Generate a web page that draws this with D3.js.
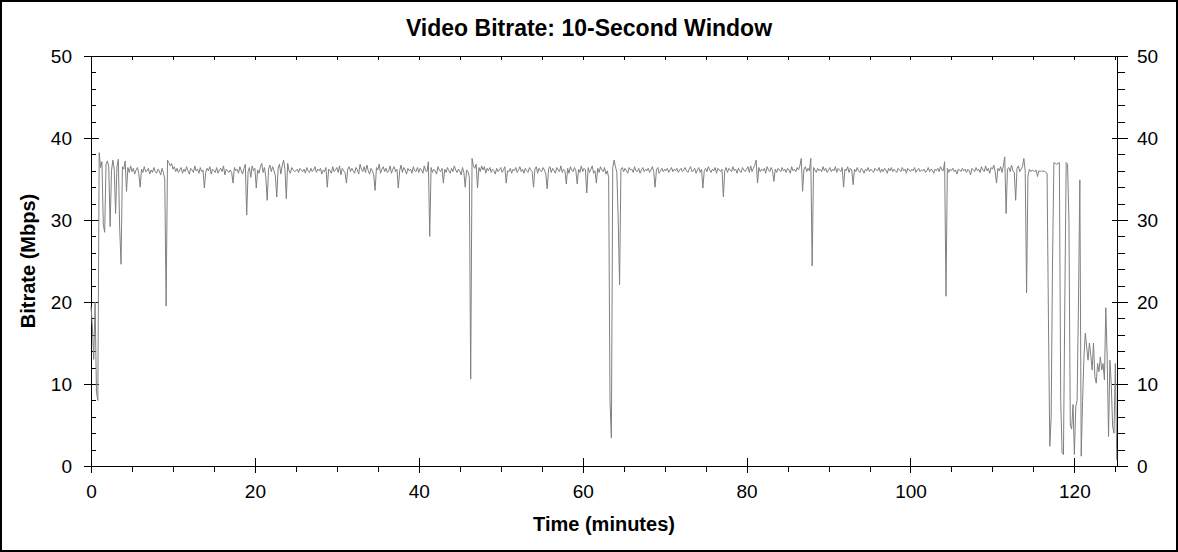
<!DOCTYPE html>
<html>
<head>
<meta charset="utf-8">
<script src="https://cdn.jsdelivr.net/npm/d3@7/dist/d3.min.js"></script>
<style>
  html, body { margin: 0; padding: 0; background: #fff; }
  svg { display: block; }
  text { font-family: "Liberation Sans", Arial, sans-serif; fill: #000; }
</style>
</head>
<body>
<svg id="chart" width="1178" height="552"></svg>
<script>
// ---- data ----
const titleText = "Video Bitrate: 10-Second Window";
const xLabelText = "Time (minutes)";
const yLabelText = "Bitrate (Mbps)";
const sampleMinutes = 10 / 60;           // one value every 10 seconds
const xDomain = [0, 125.2];
const yDomain = [0, 50];
const xMajorTicks = [0, 20, 40, 60, 80, 100, 120];
const xMinorTicks = [5, 10, 15, 25, 30, 35, 45, 50, 55, 65, 70, 75, 85, 90, 95, 105, 110, 115, 125];
const xTopTicks = [5, 10, 15, 20, 25, 30, 35, 40, 45, 50, 55, 60, 65, 70, 75, 80, 85, 90, 95, 100, 105, 110, 115, 120, 125];
const yMajorTicks = [0, 10, 20, 30, 40, 50];
const yMinorTicks = [2, 4, 6, 8, 12, 14, 16, 18, 22, 24, 26, 28, 32, 34, 36, 38, 42, 44, 46, 48];

// bitrate (Mbps), one row per minute (6 samples of 10 s)
const bitrate = [
  19.5, 17, 13, 20, 9, 8,
  38.2, 36.4, 37.1, 29.5, 28.5, 36.8,
  37.2, 36.5, 29.2, 36.0, 37.3, 36.2,
  30.8, 36.5, 37.4, 29.0, 24.6, 36.5,
  36.2, 37.2, 33.5, 36.4, 35.8, 36.6,
  35.9, 36.3, 35.6, 36.1, 36.4, 35.7,
  34.0, 36.2, 35.8, 36.5, 35.9, 36.0,
  36.3, 35.6, 36.1, 35.8, 36.4, 35.9,
  35.7, 36.2, 36.0, 35.5, 36.3, 35.8,
  35.0, 19.5, 37.3, 37.0, 36.6, 36.9,
  36.2, 36.5, 35.9, 36.3, 35.8, 36.1,
  36.4, 35.7, 36.2, 35.9, 36.5, 36.0,
  35.6, 36.3, 36.1, 35.8, 36.6, 36.0,
  36.2, 35.7, 36.4, 35.9, 36.1, 33.9,
  35.8, 36.3, 36.0, 36.5, 35.6, 36.2,
  36.0, 35.8, 36.4, 35.7, 36.1, 36.3,
  35.9, 36.6, 35.5, 36.2, 36.0, 35.8,
  36.1, 35.8, 34.5, 36.4, 36.0, 36.2,
  35.7, 36.5, 36.0, 35.6, 36.3, 36.8,
  30.6, 35.9, 36.4, 35.2, 36.6, 36.0,
  36.3, 33.9, 36.1, 35.7, 36.5, 36.9,
  35.8, 36.4, 35.2, 32.4, 36.2, 36.7,
  35.9, 36.5, 36.0, 35.4, 32.8, 36.3,
  36.8, 35.6, 36.6, 37.3, 36.2, 32.6,
  36.9, 36.0, 35.7, 36.4, 36.1, 35.9,
  36.0, 36.2, 35.8, 36.3, 36.1, 35.9,
  36.2, 35.7, 36.4, 36.0, 35.8, 36.3,
  35.9, 36.1, 36.5, 35.8, 36.2, 36.0,
  36.3, 35.6, 36.1, 35.9, 36.4, 34.0,
  36.2, 36.0, 35.7, 36.5, 35.9, 36.1,
  36.4, 35.8, 36.6, 35.5, 36.3, 36.0,
  35.8, 34.5, 36.2, 36.5, 35.9, 36.3,
  36.0, 35.7, 36.4, 36.1, 35.6, 36.8,
  36.2, 35.9, 36.5, 35.8, 36.7, 36.0,
  35.6, 36.3, 36.0, 35.5, 33.6, 36.4,
  36.1, 36.8, 35.7, 36.2, 36.5, 35.9,
  36.3, 35.8, 36.0, 36.6, 35.7, 36.2,
  36.5, 35.9, 36.2, 33.9, 36.0, 36.7,
  35.8, 36.4, 36.1, 35.6, 36.3, 36.0,
  36.2, 35.7, 36.5, 36.0, 35.9, 36.4,
  35.8, 36.3, 36.1, 35.7, 36.6, 36.0,
  35.9, 37.1, 28.0, 36.4, 35.8, 36.2,
  36.0, 35.6, 36.5, 36.1, 35.9, 36.3,
  34.5, 36.2, 35.8, 36.4, 36.0, 35.7,
  36.3, 35.9, 36.6, 36.1, 35.8, 36.2,
  36.0, 35.5, 36.4, 35.8, 34.0, 36.1,
  35.9, 35.2, 10.6, 37.5, 36.6, 36.3,
  36.8, 33.9, 36.4, 35.9, 36.6, 36.1,
  36.5, 35.7, 36.3, 36.0, 36.4, 35.8,
  36.2, 36.0, 35.6, 36.3, 35.9, 36.1,
  36.4, 35.8, 36.1, 36.5, 34.5, 36.0,
  35.9, 36.3, 35.7, 36.2, 36.0, 36.4,
  35.8, 36.1, 36.5, 35.9, 36.2, 35.7,
  36.3, 36.0, 35.8, 36.4, 36.1, 35.9,
  34.0, 36.2, 36.5, 35.7, 36.3, 36.0,
  35.9, 36.4, 36.1, 35.6, 33.8, 36.2,
  36.5, 35.8, 36.3, 36.0, 35.7, 36.4,
  36.1, 35.9, 36.6, 35.8, 36.2, 36.0,
  34.4, 36.3, 35.7, 36.5, 36.1, 35.9,
  36.4, 36.0, 34.4, 36.2, 35.8, 36.6,
  35.9, 36.3, 36.1, 33.3, 36.4, 35.8,
  36.2, 36.6, 35.7, 36.0, 34.5, 36.3,
  35.8, 36.5, 36.1, 35.9, 36.4, 35.6,
  36.0, 35.2, 8.0, 3.4, 36.4, 37.3,
  36.5, 35.8, 30.0, 22.1, 36.2, 36.4,
  35.9, 36.3, 36.0, 35.7, 36.4, 36.1,
  36.2, 35.8, 36.5, 36.0, 35.9, 36.3,
  35.7, 36.1, 36.4, 35.9, 36.2, 36.0,
  36.3, 35.8, 36.1, 36.5, 35.9, 34.0,
  36.1, 36.4, 35.7, 36.0, 36.3, 35.9,
  36.2, 36.0, 36.3, 35.8, 36.1, 36.4,
  35.9, 36.2, 36.0, 36.3, 35.8, 36.1,
  36.3, 35.9, 36.1, 36.4, 36.0, 35.8,
  36.2, 36.5, 35.9, 36.0, 36.3, 35.7,
  36.1, 36.4, 35.8, 36.2, 33.9, 36.0,
  36.3, 35.9, 36.5, 36.1, 35.8, 36.2,
  36.0, 36.4, 35.7, 36.3, 36.1, 35.9,
  36.2, 32.8, 36.0, 36.4, 35.8, 36.3,
  36.1, 35.9, 36.5, 36.0, 36.2, 35.7,
  36.3, 36.0, 35.8, 36.4, 36.1, 35.9,
  36.2, 36.5, 35.8, 36.6, 35.9, 36.3,
  36.7, 37.3, 34.5, 36.4, 35.9, 36.2,
  36.0, 36.3, 35.7, 36.5, 36.1, 35.9,
  36.4, 36.0, 34.7, 36.2, 35.8, 36.3,
  36.1, 35.9, 36.4, 36.0, 36.2, 35.8,
  36.3, 36.1, 35.7, 36.5, 36.0, 36.2,
  35.9, 36.4, 36.1, 36.6, 37.5, 33.5,
  36.2, 36.5, 35.9, 36.3, 36.0, 37.5,
  24.4, 36.4, 36.1, 35.8, 36.3, 36.0,
  36.2, 35.9, 36.5, 36.0, 36.3, 35.8,
  36.1, 36.4, 35.9, 36.2, 36.0, 36.5,
  35.8, 36.3, 36.1, 35.9, 36.4, 34.0,
  36.2, 36.0, 36.5, 35.8, 36.3, 36.1,
  34.3, 36.2, 35.9, 36.4, 36.0, 35.8,
  36.3, 36.1, 35.7, 36.2, 36.0, 36.4,
  35.9, 36.2, 36.0, 35.8, 36.3, 36.1,
  36.0, 36.4, 35.8, 36.2, 35.9, 36.3,
  36.1, 35.7, 36.3, 36.0, 36.4, 35.9,
  36.2, 36.0, 35.8, 36.3, 36.1, 35.9,
  36.4, 36.0, 36.2, 35.7, 36.3, 36.1,
  35.9, 36.2, 36.0, 36.4, 35.8, 36.1,
  36.3, 35.9, 36.1, 36.0, 36.2, 35.8,
  36.0, 36.4, 35.9, 36.2, 36.1, 35.7,
  36.2, 36.0, 36.3, 35.9, 36.5, 36.1,
  36.0, 37.1, 20.7, 36.3, 35.8, 36.2,
  36.0, 36.3, 35.9, 36.1, 35.6, 36.2,
  36.1, 35.9, 36.3, 36.0, 36.2, 35.8,
  36.2, 36.0, 35.5, 36.3, 36.1, 35.9,
  36.4, 36.0, 36.2, 35.8, 36.5, 36.1,
  35.9, 36.6, 36.0, 36.3, 35.7, 36.4,
  36.2, 36.7, 35.9, 34.5, 36.3, 36.0,
  36.5, 35.8, 36.6, 37.7, 30.8, 36.2,
  36.4, 35.9, 36.7, 36.0, 35.8, 32.4,
  36.3, 36.6, 35.9, 36.2, 36.5, 37.5,
  36.0, 21.1, 35.3, 36.2, 35.9, 36.1,
  36.0, 35.9, 36.1, 35.3, 36.0, 35.9,
  36.0, 35.9, 36.0, 35.8, 35.7, 18.0,
  2.4, 6.0, 25.0, 37.0, 36.9, 36.8,
  36.9, 37.0, 8.0, 1.6, 1.4, 20.0,
  37.0, 36.8, 30.0, 5.0, 4.5, 7.5,
  1.4, 7.2, 8.0, 20.0, 34.9, 1.2,
  8.0, 13.3, 16.2, 14.5, 12.9, 15.0,
  13.5, 11.7, 15.0, 10.9, 10.1, 12.5,
  11.5, 13.3, 11.7, 12.5, 10.5, 19.3,
  13.3, 3.6, 12.9, 10.0, 4.8, 4.0,
  12.5, 0.7
];

// ---- layout ----
const W = 1178, H = 552;
const plot = { left: 91, right: 1117, top: 56, bottom: 466 };
const svg = d3.select("#chart");

const x = d3.scaleLinear().domain(xDomain).range([plot.left, plot.right]);
const y = d3.scaleLinear().domain(yDomain).range([plot.bottom, plot.top]);

// outer border
svg.append("rect").attr("x", 1).attr("y", 1).attr("width", W - 2).attr("height", H - 2)
  .attr("fill", "#fff").attr("stroke", "#000").attr("stroke-width", 2);

const FONT = "Liberation Sans, Arial, sans-serif";

function styleAxis(g) {
  g.select(".domain").remove();
  g.selectAll("line").attr("stroke", "#000").attr("stroke-width", 1).attr("shape-rendering", "crispEdges");
  g.selectAll("text").attr("font-size", 19).attr("font-family", FONT).attr("fill", "#000");
}

// left axis: major ticks cross the axis, minor ticks point inward
svg.append("g").attr("transform", `translate(${plot.left},0)`)
  .call(d3.axisLeft(y).tickValues(yMajorTicks).tickSize(7).tickPadding(12).tickSizeOuter(0))
  .call(styleAxis)
  .call(g => g.selectAll(".tick line").attr("x2", 8).attr("x1", -7));
svg.append("g").attr("transform", `translate(${plot.left},0)`)
  .call(d3.axisRight(y).tickValues(yMinorTicks).tickSize(5).tickFormat("").tickSizeOuter(0))
  .call(styleAxis);

// right axis: ticks point outward, major cross
svg.append("g").attr("transform", `translate(${plot.right},0)`)
  .call(d3.axisRight(y).tickValues(yMajorTicks).tickSize(11).tickPadding(9).tickSizeOuter(0))
  .call(styleAxis)
  .call(g => g.selectAll(".tick line").attr("x1", -5).attr("x2", 11));
svg.append("g").attr("transform", `translate(${plot.right},0)`)
  .call(d3.axisRight(y).tickValues(yMinorTicks).tickSize(8).tickFormat("").tickSizeOuter(0))
  .call(styleAxis);

// bottom axis
svg.append("g").attr("transform", `translate(0,${plot.bottom})`)
  .call(d3.axisBottom(x).tickValues(xMajorTicks).tickSize(7).tickPadding(12).tickFormat(d3.format("d")).tickSizeOuter(0))
  .call(styleAxis)
  .call(g => g.selectAll(".tick line").attr("y1", -8).attr("y2", 7));
svg.append("g").attr("transform", `translate(0,${plot.bottom})`)
  .call(d3.axisBottom(x).tickValues(xMinorTicks).tickSize(6).tickFormat("").tickSizeOuter(0))
  .call(styleAxis);

// top axis: small ticks pointing down (inside)
svg.append("g").attr("transform", `translate(0,${plot.top})`)
  .call(d3.axisBottom(x).tickValues(xTopTicks).tickSize(4).tickFormat("").tickSizeOuter(0))
  .call(styleAxis);

// plot frame
svg.append("rect")
  .attr("x", plot.left + 0.5).attr("y", plot.top + 0.5)
  .attr("width", plot.right - plot.left).attr("height", plot.bottom - plot.top)
  .attr("fill", "none").attr("stroke", "#000").attr("stroke-width", 1);

// data line
const line = d3.line()
  .x((d, i) => x(i * sampleMinutes))
  .y(d => y(d));
svg.append("path")
  .datum(bitrate)
  .attr("fill", "none")
  .attr("stroke", "#808080")
  .attr("stroke-width", 1)
  .attr("stroke-linejoin", "round")
  .attr("d", line);

// title and axis labels
svg.append("text").attr("x", W / 2).attr("y", 36)
  .attr("text-anchor", "middle").attr("font-size", 23).attr("font-weight", "bold")
  .attr("font-family", FONT).text(titleText);

svg.append("text").attr("x", (plot.left + plot.right) / 2).attr("y", 531)
  .attr("text-anchor", "middle").attr("font-size", 20).attr("font-weight", "bold")
  .attr("font-family", FONT).text(xLabelText);

svg.append("text")
  .attr("transform", `translate(35,${(plot.top + plot.bottom) / 2}) rotate(-90)`)
  .attr("text-anchor", "middle").attr("font-size", 20).attr("font-weight", "bold")
  .attr("font-family", FONT).text(yLabelText);
</script>
</body>
</html>
